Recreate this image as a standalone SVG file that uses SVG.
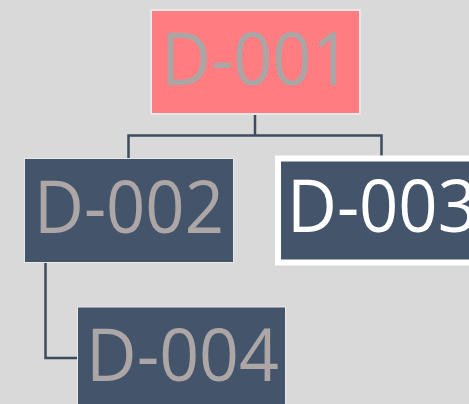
<svg xmlns="http://www.w3.org/2000/svg" width="469" height="404" viewBox="0 0 469 404">
<style>
.lbl{font-family:"Open Sans","Liberation Sans",sans-serif;font-size:73px;text-anchor:middle}
.dark{fill:#44546a;stroke:#e8e8e8;stroke-width:1}
.conn{fill:none;stroke:#3e4b5f;stroke-width:2.5}
</style>
<rect width="469" height="404" fill="#d9d9d9"/>
<g id="connectors">
<path class="conn" d="M255,115 V135.5 M128.5,158 V135.5 H381.5 V156"/>
<path class="conn" d="M45.5,263 V358 H78"/>
</g>
<g id="D-001">
<rect x="151" y="10" width="209" height="104" fill="#ff7c80" stroke="#e8e8e8" stroke-width="2"/>
<text class="lbl" x="256" y="85" fill="#aba6a6" textLength="190" lengthAdjust="spacingAndGlyphs">D-001</text>
</g>
<g id="D-002">
<rect class="dark" x="24.5" y="158.5" width="209" height="104"/>
<text class="lbl" x="129" y="233" fill="#aca7a6" textLength="190" lengthAdjust="spacingAndGlyphs">D-002</text>
</g>
<g id="D-003">
<rect x="278" y="158.5" width="200" height="104" fill="#44546a" stroke="#ffffff" stroke-width="6"/>
<text class="lbl" x="382" y="232" fill="#ffffff" textLength="190" lengthAdjust="spacingAndGlyphs">D-003</text>
</g>
<g id="D-004">
<rect class="dark" x="77.5" y="307" width="208" height="104"/>
<text class="lbl" x="182.5" y="381" fill="#aca7a6" textLength="193" lengthAdjust="spacingAndGlyphs">D-004</text>
</g>
</svg>
